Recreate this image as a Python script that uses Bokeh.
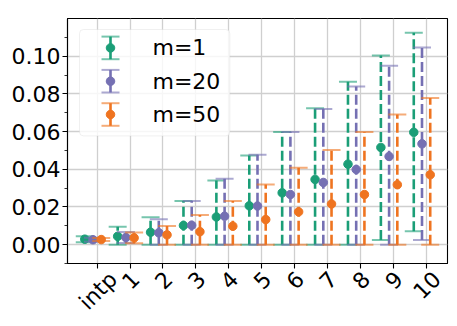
import math
from bokeh.plotting import figure
from bokeh.models import (Range1d, FixedTicker, PrintfTickFormatter, Label, BoxAnnotation,
                          ColumnDataSource, CustomJSTickFormatter)
from bokeh.embed import file_html
from bokeh.resources import INLINE

# ---------------- data ----------------
categories = ["intp", "1", "2", "3", "4", "5", "6", "7", "8", "9", "10"]
series_names = ["m=1", "m=20", "m=50"]

mean_m1 = [0.0029, 0.0044, 0.0066, 0.0102, 0.0147, 0.0206, 0.0275, 0.0346, 0.0427, 0.0516, 0.0596]
low_m1 = [0.0013, 0.0, 0.0, 0.0, 0.0, 0.0, 0.0, 0.0, 0.0, 0.0025, 0.0071]
high_m1 = [0.0045, 0.0095, 0.0145, 0.0231, 0.0340, 0.0473, 0.0598, 0.0724, 0.0865, 0.1004, 0.1124]

mean_m20 = [0.0026, 0.0038, 0.0063, 0.0103, 0.0151, 0.0205, 0.0266, 0.0330, 0.0399, 0.0468, 0.0535]
low_m20 = [0.0016, 0.0009, 0.0, 0.0, 0.0, 0.0, 0.0, 0.0, 0.0, 0.0, 0.0025]
high_m20 = [0.0036, 0.0067, 0.0135, 0.0232, 0.0350, 0.0477, 0.0598, 0.0720, 0.0839, 0.0949, 0.1046]

mean_m50 = [0.0027, 0.0036, 0.0052, 0.0069, 0.0098, 0.0133, 0.0174, 0.0216, 0.0266, 0.0318, 0.0371]
low_m50 = [0.0019, 0.0008, 0.0, 0.0, 0.0, 0.0, 0.0, 0.0, 0.0, 0.0, 0.0]
high_m50 = [0.0035, 0.0065, 0.0099, 0.0158, 0.0232, 0.0319, 0.0408, 0.0502, 0.0598, 0.0691, 0.0778]

y_ticks = [0.0, 0.02, 0.04, 0.06, 0.08, 0.10]
y_minor_ticks = [-0.01, 0.01, 0.03, 0.05, 0.07, 0.09, 0.11]

# ---------------- style ----------------
colors = ["#1b9e77", "#7570b3", "#ef7420"]
offsets = [-0.375, -0.125, 0.125]
FONT = "DejaVu Sans"
FS = "22px"

X0, X1 = -0.9, 10.65
Y0, Y1 = -0.01, 0.12
W, H = 457, 326
BL, BR, BT, BB = 67, 10, 18, 63
FW, FH = W - BL - BR, H - BT - BB

p = figure(width=W, height=H, x_range=Range1d(X0, X1), y_range=Range1d(Y0, Y1),
           output_backend="svg", toolbar_location=None,
           min_border_left=BL, min_border_right=BR, min_border_top=BT, min_border_bottom=BB)
p.background_fill_color = "white"
p.border_fill_color = "white"
p.outline_line_color = "black"
p.outline_line_width = 1.1

# rotated x labels: Bokeh right-aligns rotated labels at the tick, so the label
# anchor is moved right by half the rotated text width to centre it on the category
char_w = {"i": 0.278, "n": 0.634, "t": 0.392, "p": 0.635}
px_per_unit = FW / (X1 - X0)
cat_pos = list(range(len(categories)))
label_pos = []
for k, lab in zip(cat_pos, categories):
    w = sum(char_w.get(ch, 0.636) for ch in lab) * 22
    label_pos.append(k + (0.354 * w + 1) / px_per_unit)

p.xaxis.ticker = FixedTicker(ticks=label_pos, minor_ticks=cat_pos)
p.xaxis.formatter = CustomJSTickFormatter(args=dict(labels=categories), code="return labels[index]")
p.xaxis.major_label_orientation = math.pi / 4
p.xgrid.ticker = FixedTicker(ticks=cat_pos)
p.yaxis.ticker = FixedTicker(ticks=y_ticks, minor_ticks=y_minor_ticks)
p.yaxis.formatter = PrintfTickFormatter(format="%.2f")

for ax in (p.xaxis, p.yaxis):
    ax.axis_line_color = "black"
    ax.axis_line_width = 1.1
    ax.major_tick_line_color = "black"
    ax.major_tick_line_width = 1.1
    ax.major_tick_in = 0
    ax.major_tick_out = 5
    ax.minor_tick_line_color = "black"
    ax.minor_tick_line_width = 0.8
    ax.minor_tick_in = 0
    ax.minor_tick_out = 3
    ax.major_label_text_font = FONT
    ax.major_label_text_font_size = FS
    ax.major_label_text_color = "black"
p.xaxis.major_tick_line_color = None
p.xaxis.minor_tick_line_width = 1.1
p.xaxis.minor_tick_out = 5
p.xaxis.major_label_standoff = 7
p.yaxis.major_label_standoff = 2

p.grid.grid_line_color = "#cfcfcf"
p.grid.grid_line_width = 1.3

# ---------------- data marks ----------------
all_series = [(mean_m1, low_m1, high_m1), (mean_m20, low_m20, high_m20), (mean_m50, low_m50, high_m50)]
for i, (mean, low, high) in enumerate(all_series):
    c = colors[i]
    xs = [k + offsets[i] for k in cat_pos]
    src = ColumnDataSource(dict(x=xs, mean=mean, low=low, high=high))
    p.segment(x0="x", y0="low", x1="x", y1="high", source=src,
              line_color=c, line_width=2.6, line_dash="10 4")
    p.scatter(x="x", y="low", source=src, marker="dash", size=18,
              line_color=c, line_alpha=0.6, line_width=2)
    p.scatter(x="x", y="high", source=src, marker="dash", size=18,
              line_color=c, line_alpha=0.6, line_width=2)
    p.scatter(x="x", y="mean", source=src, marker="circle", size=8.5,
              fill_color=c, line_color=c)

# ---------------- legend (drawn by hand) ----------------
def sx(px):
    return X0 + px * (X1 - X0) / FW

def sy(px):
    return Y1 - px * (Y1 - Y0) / FH

box = BoxAnnotation(left=sx(12), right=sx(162.3), top=sy(11), bottom=sy(117.4),
                    fill_color="white", fill_alpha=0.8, line_color="#cccccc",
                    line_width=1, border_radius=4)
p.add_layout(box)

row_y = [29.4, 62.7, 96.0]
for i, name in enumerate(series_names):
    c = colors[i]
    cy = row_y[i]
    lsrc = ColumnDataSource(dict(x=[sx(43)], yc=[sy(cy)], yl=[sy(cy + 11.3)], yh=[sy(cy - 11.3)]))
    p.segment(x0="x", y0="yl", x1="x", y1="yh", source=lsrc, line_color=c, line_width=2.6, level="overlay")
    p.scatter(x="x", y="yl", source=lsrc, marker="dash", size=18, line_color=c,
              line_alpha=0.6, line_width=2, level="overlay")
    p.scatter(x="x", y="yh", source=lsrc, marker="dash", size=18, line_color=c,
              line_alpha=0.6, line_width=2, level="overlay")
    p.scatter(x="x", y="yc", source=lsrc, marker="circle", size=8.5, fill_color=c,
              line_color=c, level="overlay")
    p.add_layout(Label(x=sx(85), y=sy(cy), text=name, text_align="left", text_baseline="middle",
                       text_font=FONT, text_font_size=FS, text_color="black", level="overlay"))

open("out.html", "w").write(file_html(p, INLINE))
